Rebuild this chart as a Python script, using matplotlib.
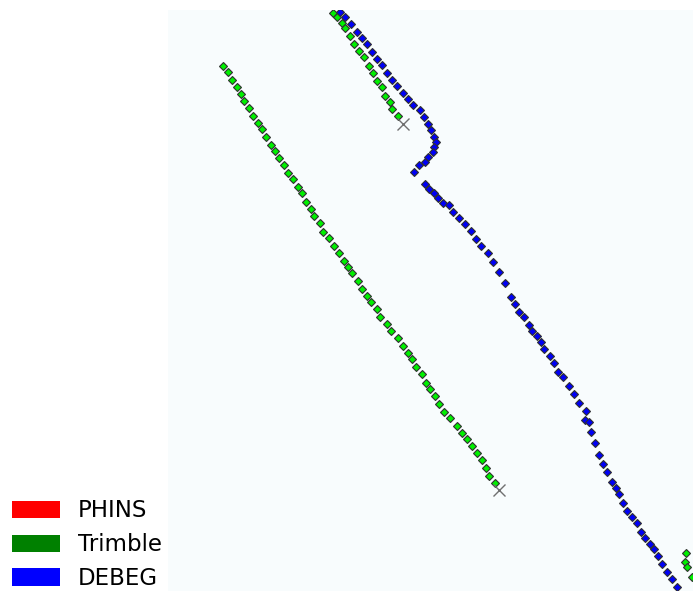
import matplotlib
matplotlib.use('Agg')
import matplotlib.pyplot as plt
from matplotlib.patches import Patch

# local track coordinates (m, easting / northing relative to sheet corner)
trimble_a_e = [55, 60, 64, 69, 73, 76, 81, 85, 90, 94, 98, 103, 107, 111, 116, 120, 125, 130, 134, 138,
               143, 146, 152, 155, 161, 166, 171, 176, 180, 184, 190, 194, 199, 203, 209, 212, 219, 223, 230, 235,
               240, 244, 248, 254, 258, 262, 267, 271, 276, 282, 289, 294, 299, 304, 309, 314, 318, 321, 327]
trimble_a_n = [525, 519, 511, 504, 497, 490, 483, 475, 468, 462, 454, 446, 440, 433, 426, 418, 412, 404, 398, 389,
               382, 375, 368, 359, 353, 345, 338, 330, 324, 318, 310, 302, 295, 289, 282, 274, 267, 260, 253, 245,
               238, 232, 224, 217, 208, 202, 195, 187, 179, 173, 165, 158, 152, 145, 138, 131, 123, 115, 108]

trimble_b_e = [165, 169, 174, 177, 182, 186, 191, 196, 201, 205, 209, 214, 217, 222, 224, 230]
trimble_b_n = [578, 574, 568, 563, 555, 547, 540, 534, 525, 518, 510, 504, 495, 489, 482, 475]

trimble_c_e = [518, 517, 519, 524]
trimble_c_n = [38, 29, 24, 14]

# last fix of each Trimble run
trimble_end_e = [331, 235]
trimble_end_n = [101, 467]

debeg_e = [172, 177, 183, 189, 194, 199, 204, 209, 214, 219, 224, 229, 235, 240, 245, 252, 256, 260, 263, 266,
           268, 266, 265, 260, 257, 251, 246,
           257, 261, 266, 270, 275, 281, 285, 291, 297, 303, 308, 313, 320, 325, 331, 337, 343, 347, 351, 356,
           361, 364, 369, 373, 376, 382, 386, 390, 395, 401, 406, 411, 418, 417, 421, 423, 427, 431, 435, 439,
           444, 448, 451, 455, 459, 464, 469, 473, 477, 482, 486, 490, 494, 499, 504, 509]
debeg_n = [579, 574, 567, 559, 553, 547, 539, 532, 526, 518, 511, 505, 498, 492, 486, 481, 474, 467, 461, 454,
           449, 444, 439, 434, 429, 426, 419,
           407, 402, 398, 393, 388, 386, 379, 373, 367, 360, 352, 345, 338, 329, 319, 308, 294, 287, 279, 274,
           266, 260, 255, 249, 242, 235, 228, 219, 214, 205, 197, 188, 180, 171, 169, 159, 148, 136, 127, 119,
           109, 103, 97, 88, 80, 74, 68, 59, 53, 47, 42, 35, 27, 19, 12, 4]

sources = ['PHINS', 'Trimble', 'DEBEG']
source_colors = ['#ff0000', '#008000', '#0000ff']

fig = plt.figure(figsize=(6.93, 5.91), dpi=100)
ax = fig.add_axes([168 / 693, 0, 525 / 693, 581 / 591])
ax.set_facecolor('#f8fcfd')
ax.set_xlim(0, 525)
ax.set_ylim(0, 581)
for s in ax.spines.values():
    s.set_visible(False)
ax.set_xticks([])
ax.set_yticks([])

pts = dict(marker='D', linestyle='none', markersize=4.4,
           markeredgecolor='#303030', markeredgewidth=0.8)
for e, n in [(trimble_a_e, trimble_a_n), (trimble_b_e, trimble_b_n), (trimble_c_e, trimble_c_n)]:
    ax.plot(e, n, markerfacecolor='#00f000', **pts)
ax.plot(debeg_e, debeg_n, markerfacecolor='#0000f5', **pts)
ax.plot(trimble_end_e, trimble_end_n, marker='x', linestyle='none',
        markersize=8, color='#707070', markeredgewidth=1.0)

handles = [Patch(facecolor=c, edgecolor='none', label=l) for l, c in zip(sources, source_colors)]
fig.legend(handles=handles, loc='lower left', bbox_to_anchor=(12 / 693, 1 / 591),
           frameon=False, fontsize=16.5, handlelength=2.1, handleheight=0.8,
           handletextpad=0.78, labelspacing=0.47, borderpad=0.0, borderaxespad=0)

plt.savefig('out.png', dpi=100)
